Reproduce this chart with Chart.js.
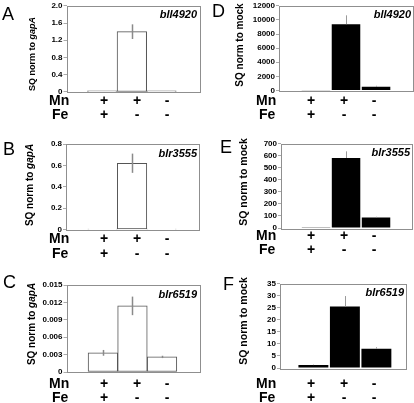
<!DOCTYPE html>
<html>
<head>
<meta charset="utf-8">
<script src="https://cdn.jsdelivr.net/npm/chart.js@4.4.1/dist/chart.umd.min.js"></script>
<style>
  body { margin: 0; background: #fff; }
  #wrap { position: relative; width: 414px; height: 403px; }
  #wrap canvas { position: absolute; left: 0; top: 0; }
</style>
</head>
<body>
<div id="wrap"></div>
<script>
// conditions along the x axis
const conditions = ['Mn+ Fe+', 'Mn+ Fe-', 'Mn- Fe-'];
const mnSigns = ['+', '+', '-'];
const feSigns = ['+', '-', '-'];

// SQ normalised to gapA (white bars)
const bll4920Gap = [0.025, 1.40, 0.025];
const bll4920GapErr = [0, 0.17, 0];
const blr3555Gap = [0.003, 0.62, 0.003];
const blr3555GapErr = [0, 0.09, 0];
const blr6519Gap = [0.0033, 0.0114, 0.0026];
const blr6519GapErr = [0.0005, 0.0016, 0.0002];

// SQ normalised to mock (black bars)
const bll4920Mock = [30, 9400, 520];
const bll4920MockErr = [0, 1250, 150];
const blr3555Mock = [6, 580, 88];
const blr3555MockErr = [0, 55, 5];
const blr6519Mock = [1.2, 25.5, 8];
const blr6519MockErr = [0.2, 4.3, 0.6];

// y ticks
const ticksA = [0, 0.4, 0.8, 1.2, 1.6, 2.0];
const tickLabelsA = ['0', '0.4', '0.8', '1.2', '1.6', '2.0'];
const ticksB = [0, 0.2, 0.4, 0.6, 0.8];
const tickLabelsB = ['0', '0.2', '0.4', '0.6', '0.8'];
const ticksC = [0, 0.003, 0.006, 0.009, 0.012, 0.015];
const tickLabelsC = ['0', '0.003', '0.006', '0.009', '0.012', '0.015'];
const ticksD = [0, 2000, 4000, 6000, 8000, 10000, 12000];
const tickLabelsD = ['0', '2000', '4000', '6000', '8000', '10000', '12000'];
const ticksE = [0, 100, 200, 300, 400, 500, 600, 700];
const tickLabelsE = ['0', '100', '200', '300', '400', '500', '600', '700'];
const ticksF = [0, 5, 10, 15, 20, 25, 30, 35];
const tickLabelsF = ['0', '5', '10', '15', '20', '25', '30', '35'];

const FONT = '"Liberation Sans", Arial, Helvetica, sans-serif';
const W = 414, H = 403;
const signCols = [104, 137, 167];

// layout of each panel (box = plot area l, t, r, b)
const panels = [
  { letter: 'A', gene: 'bll4920', values: bll4920Gap, errs: bll4920GapErr, ticks: ticksA, labels: tickLabelsA,
    norm: 'gapA', dark: false, box: [66.5, 4.5, 199, 92], xr: [-0.21, 4.27],
    letterPos: [2, 20], titleX: 33, titleY: 54, titleSize: 9, rows: [105, 119], colX: 0 },
  { letter: 'B', gene: 'blr3555', values: blr3555Gap, errs: blr3555GapErr, ticks: ticksB, labels: tickLabelsB,
    norm: 'gapA', dark: false, box: [66, 144, 199, 229.5], xr: [-0.24, 4.27],
    letterPos: [3, 155], titleX: 30, titleY: 185, titleSize: 10, rows: [243, 258], colX: 0 },
  { letter: 'C', gene: 'blr6519', values: blr6519Gap, errs: blr6519GapErr, ticks: ticksC, labels: tickLabelsC,
    norm: 'gapA', dark: false, box: [66.5, 285, 199, 372], xr: [-0.23, 4.25],
    letterPos: [3, 288], titleX: 32, titleY: 324, titleSize: 10, rows: [388, 402], colX: 0 },
  { letter: 'D', gene: 'bll4920', values: bll4920Mock, errs: bll4920MockErr, ticks: ticksD, labels: tickLabelsD,
    norm: 'mock', dark: true, box: [279, 5, 413, 90.5], xr: [-0.23, 4.23],
    letterPos: [212, 17], titleX: 240, titleY: 45, titleSize: 10, rows: [105, 119], colX: 207 },
  { letter: 'E', gene: 'blr3555', values: blr3555Mock, errs: blr3555MockErr, ticks: ticksE, labels: tickLabelsE,
    norm: 'mock', dark: true, box: [281, 143.5, 412, 228], xr: [-0.17, 4.2],
    letterPos: [220, 153], titleX: 244, titleY: 182, titleSize: 10.5, rows: [240, 254], colX: 207 },
  { letter: 'F', gene: 'blr6519', values: blr6519Mock, errs: blr6519MockErr, ticks: ticksF, labels: tickLabelsF,
    norm: 'mock', dark: true, box: [280, 283.5, 406, 368], xr: [-0.06, 3.94],
    letterPos: [223, 290], titleX: 244, titleY: 321, titleSize: 10.5, rows: [388, 402], colX: 207 }
];

const decor = {
  id: 'decor',
  beforeDatasetsDraw(chart) {
    const p = chart.options.plugins.decor.panel;
    const a = chart.chartArea;
    const c = chart.ctx;
    c.save();
    c.strokeStyle = '#8f8f8f';
    c.lineWidth = 1;
    c.strokeRect(Math.round(a.left) + 0.5, Math.round(a.top) + 0.5,
      Math.round(a.right - a.left), Math.round(a.bottom - a.top));
    c.restore();
  },
  afterDatasetsDraw(chart) {
    const p = chart.options.plugins.decor.panel;
    const c = chart.ctx;
    const xs = chart.scales.x, ys = chart.scales.y;
    const a = chart.chartArea;
    c.save();
    // error bars
    p.values.forEach((v, i) => {
      const e = p.errs[i];
      if (!e) return;
      const x = Math.round(xs.getPixelForValue(i + 1)) + 0.5;
      c.strokeStyle = p.dark ? '#9a9a9a' : '#8a8a8a';
      c.lineWidth = p.dark ? 1 : 1.5;
      c.beginPath();
      c.moveTo(x, ys.getPixelForValue(v + e));
      c.lineTo(x, ys.getPixelForValue(p.dark ? v : Math.max(0, v - e)));
      c.stroke();
    });
    // gene name
    c.fillStyle = '#000';
    c.font = 'italic bold 11px ' + FONT;
    c.textAlign = 'right';
    c.textBaseline = 'alphabetic';
    c.fillText(p.gene, a.right - 2, a.top + 12.5);
    // panel letter
    c.textAlign = 'left';
    c.font = '18px ' + FONT;
    c.fillText(p.letter, p.letterPos[0], p.letterPos[1]);
    // y title, with italic gene name of the reference
    const parts = p.norm === 'gapA'
      ? [['SQ norm to ', 'bold'], ['gapA', 'italic bold']]
      : [['SQ norm to mock', 'bold']];
    c.save();
    c.translate(p.titleX, p.titleY);
    c.rotate(-Math.PI / 2);
    c.textBaseline = 'middle';
    let total = 0;
    parts.forEach(([t, f]) => { c.font = f + ' ' + p.titleSize + 'px ' + FONT; total += c.measureText(t).width; });
    let tx = -total / 2;
    parts.forEach(([t, f]) => {
      c.font = f + ' ' + p.titleSize + 'px ' + FONT;
      c.fillText(t, tx, 0);
      tx += c.measureText(t).width;
    });
    c.restore();
    // Mn / Fe rows
    c.font = 'bold 14px ' + FONT;
    c.textAlign = 'left';
    c.fillText('Mn', p.colX + 49, p.rows[0]);
    c.fillText('Fe', p.colX + 52, p.rows[1]);
    c.textAlign = 'center';
    conditions.forEach((cond, i) => {
      c.fillText(mnSigns[i], p.colX + signCols[i], p.rows[0]);
      c.fillText(feSigns[i], p.colX + signCols[i], p.rows[1]);
    });
    c.restore();
  }
};

const wrap = document.getElementById('wrap');
panels.forEach(p => {
  const cv = document.createElement('canvas');
  cv.width = W; cv.height = H;
  cv.style.width = W + 'px'; cv.style.height = H + 'px';
  wrap.appendChild(cv);
  const yw = 32;
  new Chart(cv.getContext('2d'), {
    type: 'bar',
    data: {
      datasets: [{
        data: p.values.map((v, i) => ({ x: i + 1, y: v })),
        backgroundColor: p.dark ? '#000' : '#fff',
        borderColor: p.dark ? '#000' : '#555',
        borderWidth: p.dark ? 0 : 1,
        borderSkipped: false,
        barPercentage: p.dark ? 0.95 : 1,
        categoryPercentage: 1
      }]
    },
    options: {
      responsive: false,
      animation: false,
      events: [],
      layout: { padding: { left: p.box[0] - yw, top: p.box[1], right: W - p.box[2], bottom: H - p.box[3] } },
      plugins: { legend: { display: false }, tooltip: { enabled: false }, decor: { panel: p } },
      scales: {
        x: { type: 'linear', min: p.xr[0], max: p.xr[1], offset: false, display: false },
        y: {
          min: 0,
          max: p.ticks[p.ticks.length - 1],
          afterFit: s => { s.width = yw; },
          afterBuildTicks: s => { s.ticks = p.ticks.map(v => ({ value: v })); },
          ticks: {
            autoSkip: false,
            padding: 1,
            color: '#000',
            font: { family: FONT, size: 8, weight: 'bold' },
            callback: (v, i) => p.labels[i]
          },
          grid: { drawOnChartArea: false, drawTicks: true, tickLength: 3, color: '#aaa' },
          border: { display: false }
        }
      }
    },
    plugins: [decor]
  });
});
</script>
</body>
</html>
